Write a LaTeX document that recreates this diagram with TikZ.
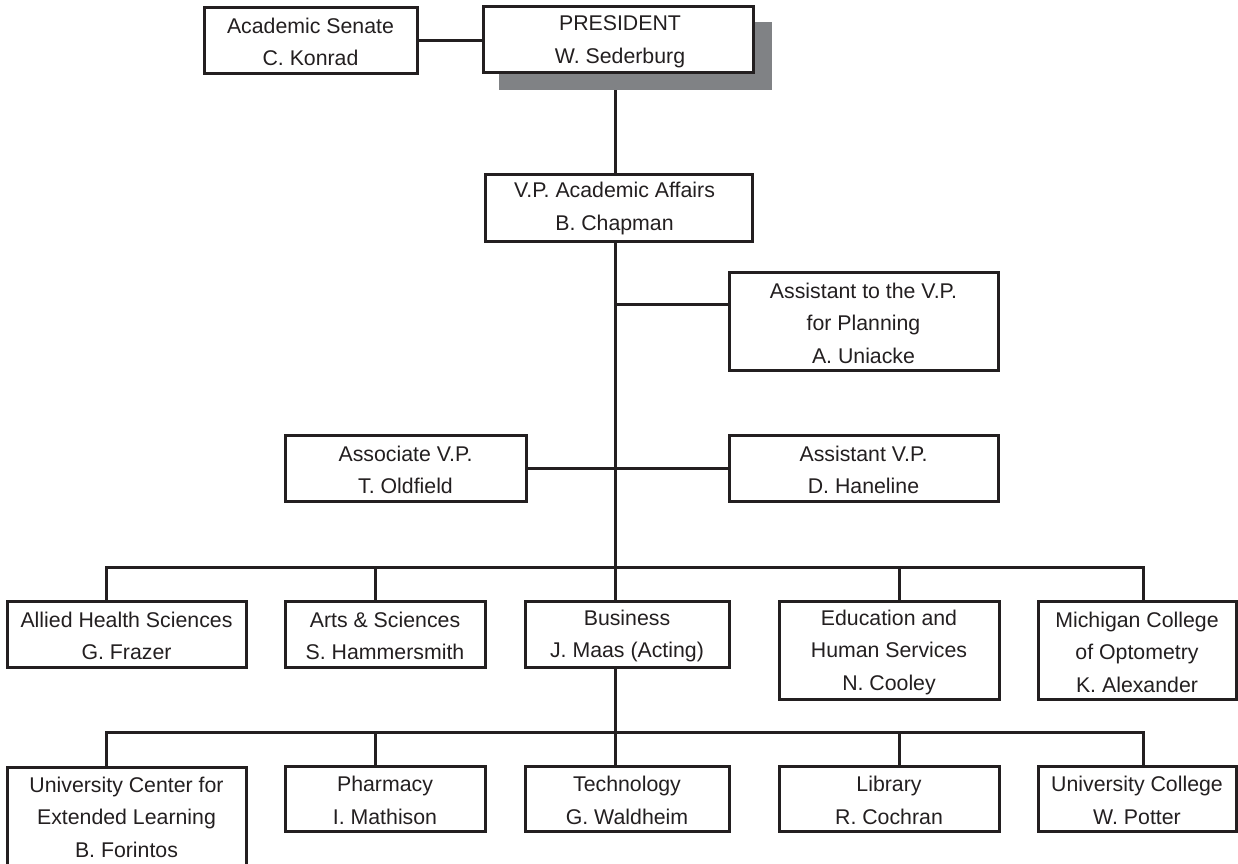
\documentclass[tikz,border=0pt]{standalone}
\usepackage{fontspec}
\setmainfont{Liberation Sans}
\definecolor{ink}{HTML}{231F20}
\definecolor{shadowgray}{HTML}{808285}
\newcommand\orgbox[5]{%
  \node[box, minimum width=#3, minimum height=#4] (#1) at (#2) {};
  \node[txt] (#1-t) at ([yshift=-2pt]#1.center) {#5};}
\begin{document}
\begin{tikzpicture}[x=1pt,y=-1pt,
  box/.style={draw=ink, line width=3pt, fill=white, inner sep=0pt},
  txt/.style={inner sep=0pt, align=center, text=ink, font=\fontsize{21.3}{32.5}\selectfont},
  wire/.style={draw=ink, line width=3pt}]
\useasboundingbox (0,0) rectangle (1238,863);
% president with shadow
\fill[shadowgray] (499,22) rectangle (772,90);
\node[box, minimum width=270, minimum height=66] (pres) at (618,39) {};
\node[txt] (pres-t) at ([xshift=2pt,yshift=-3pt]pres.center) {PRESIDENT\\W. Sederburg};
\orgbox{senate}{310.5,40}{213}{66}{Academic Senate\\C. Konrad}
\node[box, minimum width=267, minimum height=67] (vp) at (618.5,207.5) {};
\node[txt] (vp-t) at ([xshift=-4pt,yshift=-1pt]vp.center) {V.P. Academic Affairs\\B. Chapman};
\orgbox{atvp}{863.5,321}{269}{98}{Assistant to the V.P.\\for Planning\\A. Uniacke}
\orgbox{assoc}{405.5,468}{241}{66}{Associate V.P.\\T. Oldfield}
\orgbox{asstvp}{863.5,468}{269}{66}{Assistant V.P.\\D. Haneline}
% colleges
\orgbox{allied}{126.5,634}{239}{66}{Allied Health Sciences\\G. Frazer}
\orgbox{arts}{385,634}{200}{66}{Arts \& Sciences\\S. Hammersmith}
\orgbox{business}{627,634}{204}{66}{Business\\J. Maas (Acting)}
\orgbox{educ}{889,650}{220}{98}{Education and\\Human Services\\N. Cooley}
\orgbox{mich}{1137,650}{198}{98}{Michigan College\\of Optometry\\K. Alexander}
% units
\node[box, minimum width=239, minimum height=100] (ucel) at (126.5,817) {};
\node[txt] (ucel-t) at (126.5,817) {University Center for\\Extended Learning\\B. Forintos};
\orgbox{pharm}{385,798.5}{200}{65}{Pharmacy\\I. Mathison}
\orgbox{tech}{627,798.5}{204}{65}{Technology\\G. Waldheim}
\orgbox{lib}{889,798.5}{220}{65}{Library\\R. Cochran}
\orgbox{ucoll}{1137,798.5}{198}{65}{University College\\W. Potter}
% connector points
\coordinate (presout) at (615,90);
\coordinate (bus1) at (615,567);
\coordinate (b1l) at (106,567);
\coordinate (b1a) at (375,567);
\coordinate (b1e) at (899,567);
\coordinate (b1r) at (1143,567);
\coordinate (bus2) at (615,732);
\coordinate (b2l) at (106,732);
\coordinate (b2a) at (375,732);
\coordinate (b2e) at (899,732);
\coordinate (b2r) at (1143,732);
% connectors
\draw[wire] (senate.east) -- (senate.east -| pres.west);
\draw[wire] (presout) -- (presout |- vp.north);
\draw[wire] (vp.south -| bus1) -- (bus1);
\draw[wire] ([yshift=17pt]atvp.west) -- ([yshift=17pt]atvp.west -| bus1);
\draw[wire] (assoc.east) -- (asstvp.west);
\draw[wire] (b1l |- allied.north) -- (b1l) -- (b1r) -- (b1r |- mich.north);
\draw[wire] (b1a) -- (b1a |- arts.north);
\draw[wire] (bus1) -- (bus1 |- business.north);
\draw[wire] (b1e) -- (b1e |- educ.north);
\draw[wire] (business.south -| bus2) -- (bus2) -- (bus2 |- tech.north);
\draw[wire] (b2l |- ucel.north) -- (b2l) -- (b2r) -- (b2r |- ucoll.north);
\draw[wire] (b2a) -- (b2a |- pharm.north);
\draw[wire] (b2e) -- (b2e |- lib.north);
\end{tikzpicture}
\end{document}
